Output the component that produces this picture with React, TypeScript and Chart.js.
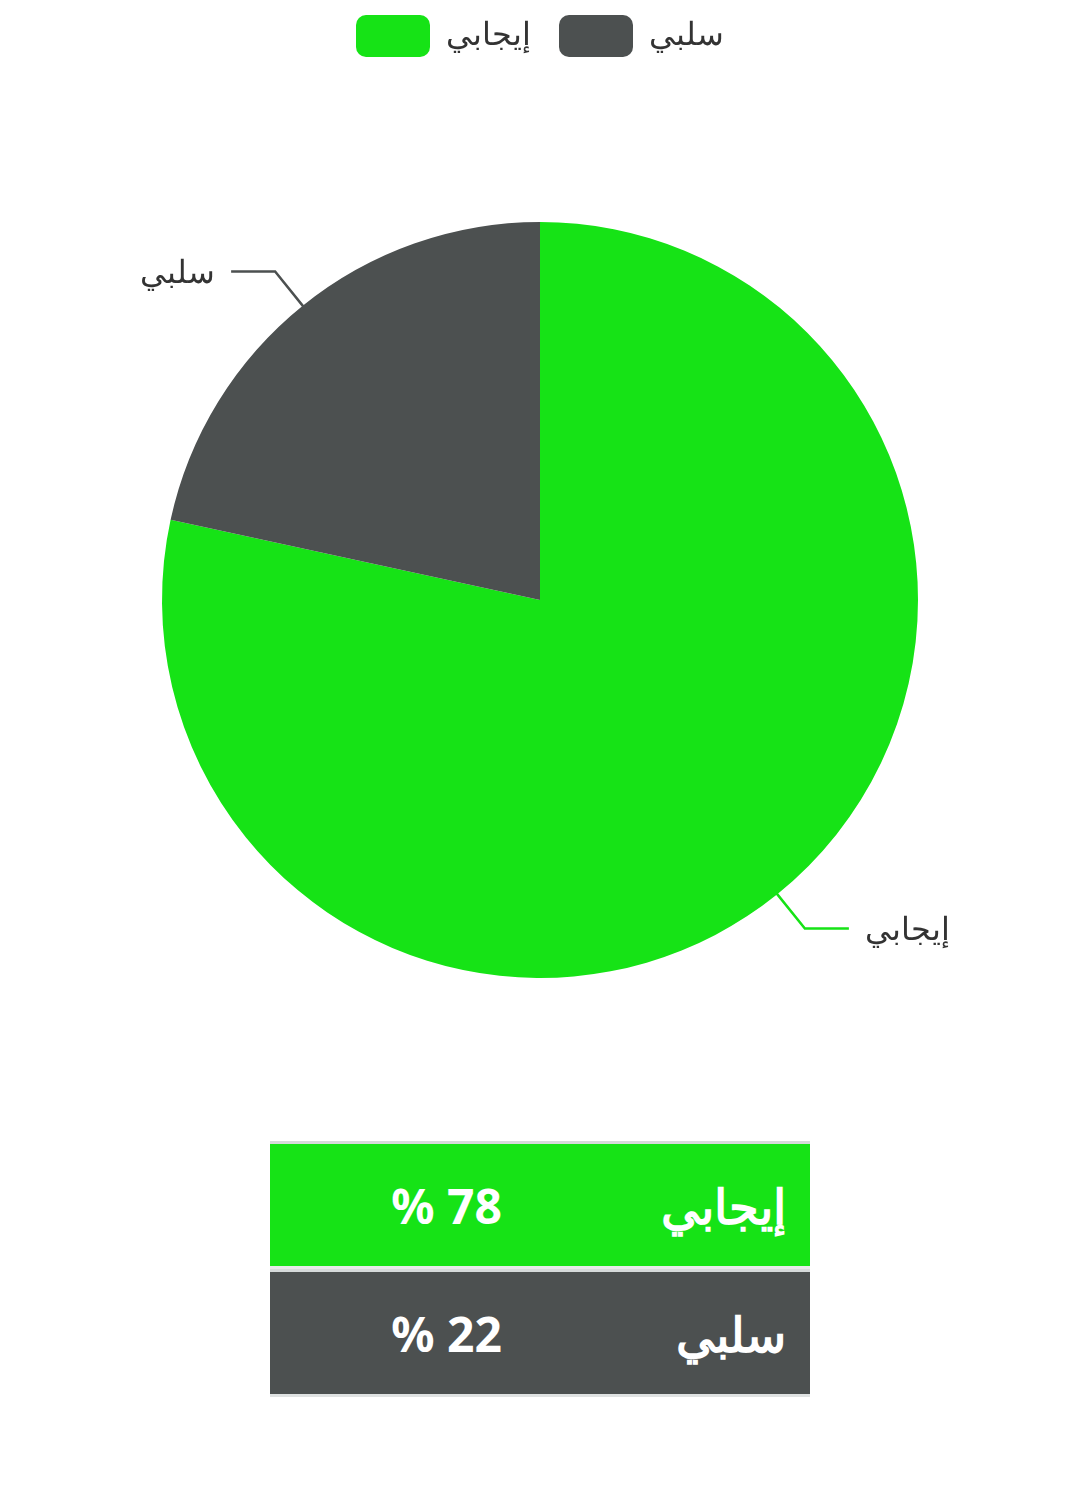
import React, { useEffect, useRef } from "react";
import { Chart, registerables } from "chart.js";

Chart.register(...registerables);

const categories = ["إيجابي", "سلبي"];
const values = [78.4, 21.6];
const colors = ["#16e316", "#4c5050"];
const tableValues = values.map((v) => `${Math.round(v)} %`);

const leaderPlugin = {
  id: "leaderLabels",
  afterDatasetsDraw(chart: any) {
    const ctx = chart.ctx;
    const meta = chart.getDatasetMeta(0);
    meta.data.forEach((arc: any, i: number) => {
      const { x, y, outerRadius, startAngle, endAngle } = arc.getProps(
        ["x", "y", "outerRadius", "startAngle", "endAngle"],
        true
      );
      const mid = (startAngle + endAngle) / 2;
      const cos = Math.cos(mid);
      const sin = Math.sin(mid);
      const p0x = x + cos * (outerRadius - 4);
      const p0y = y + sin * (outerRadius - 4);
      const p1x = x + cos * (outerRadius + 44);
      const p1y = y + sin * (outerRadius + 44);
      const right = cos >= 0;
      const p2x = p1x + (right ? 44 : -44);
      ctx.save();
      ctx.strokeStyle = colors[i];
      ctx.lineWidth = 2.5;
      ctx.beginPath();
      ctx.moveTo(p0x, p0y);
      ctx.lineTo(p1x, p1y);
      ctx.lineTo(p2x, p1y);
      ctx.stroke();
      ctx.fillStyle = "#333333";
      ctx.font = "32px 'Helvetica Neue', Helvetica, Arial, sans-serif";
      ctx.textBaseline = "middle";
      ctx.textAlign = right ? "left" : "right";
      ctx.fillText(categories[i], p2x + (right ? 16 : -16), p1y + 3);
      ctx.restore();
    });
  },
};

function PieChart() {
  const ref = useRef<HTMLCanvasElement | null>(null);
  useEffect(() => {
    if (!ref.current) return;
    const chart = new Chart(ref.current, {
      type: "pie",
      data: {
        labels: categories,
        datasets: [
          {
            data: values,
            backgroundColor: colors,
            borderWidth: 0,
          },
        ],
      },
      options: {
        animation: false,
        responsive: true,
        maintainAspectRatio: false,
        layout: { padding: { left: 154, right: 154, top: 0, bottom: 0 } },
        plugins: {
          legend: {
            position: "top",
            labels: {
              boxWidth: 74,
              boxHeight: 42,
              useBorderRadius: true,
              borderRadius: 10,
              padding: 28,
              color: "#333333",
              font: { size: 32 },
            },
          },
          tooltip: { enabled: false },
        },
      },
      plugins: [leaderPlugin],
    });
    return () => chart.destroy();
  }, []);
  return (
    <div style={{ position: "relative", height: 1146, marginTop: -21 }}>
      <canvas ref={ref} />
    </div>
  );
}

export default function App() {
  const cellBase: React.CSSProperties = {
    color: "#ffffff",
    fontWeight: 700,
    fontSize: 48,
    fontFamily: "'Noto Sans', sans-serif",
    height: 128,
    padding: "0 24px",
    textAlign: "right",
    verticalAlign: "middle",
    borderTop: "3px solid #d6dada",
    boxSizing: "border-box",
  };
  return (
    <div>
      <PieChart />
      <table
        dir="rtl"
        style={{
          width: 540,
          margin: "8px auto 0",
          borderCollapse: "separate",
          borderSpacing: 0,
          tableLayout: "fixed",
        }}
      >
        <colgroup>
          <col style={{ width: 284 }} />
          <col style={{ width: 256 }} />
        </colgroup>
        <tbody>
          {categories.map((c, i) => {
            const style: React.CSSProperties = {
              ...cellBase,
              background: colors[i],
              borderBottom:
                i === categories.length - 1 ? "3px solid #dfe2e2" : "3px solid #e8eaea",
            };
            return (
              <tr key={c}>
                <td style={style}>{c}</td>
                <td style={style}>{tableValues[i]}</td>
              </tr>
            );
          })}
        </tbody>
      </table>
    </div>
  );
}
